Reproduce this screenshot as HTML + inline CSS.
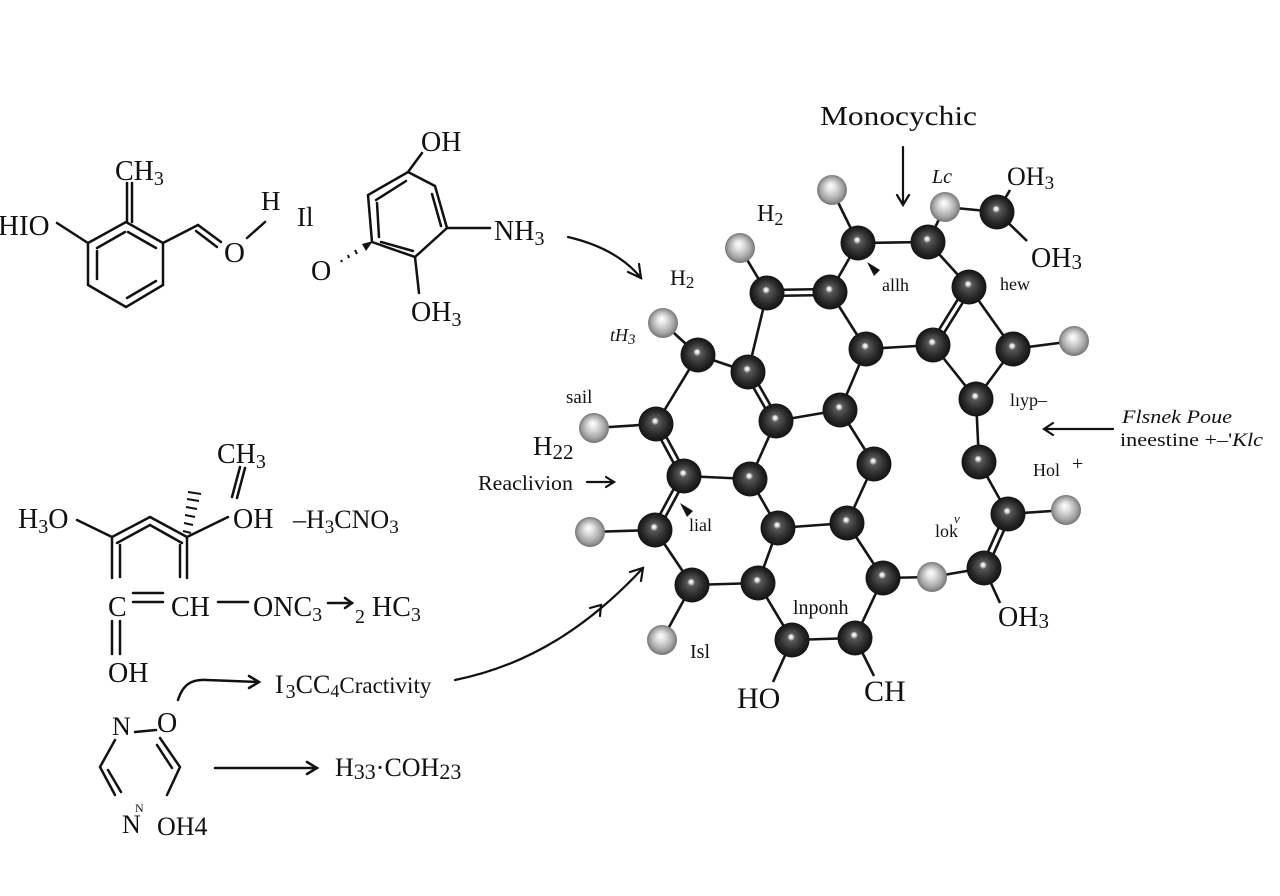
<!DOCTYPE html>
<html><head><meta charset="utf-8"><style>
html,body{margin:0;padding:0;background:#fff;}
svg{display:block;}
text{font-family:"Liberation Serif","DejaVu Serif",serif;fill:#111;}
</style></head><body>
<svg width="1280" height="896" viewBox="0 0 1280 896" xmlns="http://www.w3.org/2000/svg">
<defs>
<radialGradient id="gc" cx="0.5" cy="0.5" r="0.5" fx="0.47" fy="0.4">
<stop offset="0" stop-color="#ffffff"/><stop offset="0.1" stop-color="#e0e0e0"/><stop offset="0.22" stop-color="#585858"/><stop offset="0.65" stop-color="#2c2c2c"/><stop offset="1" stop-color="#121212"/>
</radialGradient>
<radialGradient id="gh" cx="0.5" cy="0.5" r="0.5" fx="0.45" fy="0.35">
<stop offset="0" stop-color="#ffffff"/><stop offset="0.3" stop-color="#e2e2e2"/><stop offset="0.75" stop-color="#a5a5a5"/><stop offset="1" stop-color="#767676"/>
</radialGradient>
</defs>
<rect width="1280" height="896" fill="#fff"/>

<g stroke="#111" stroke-width="2.5" fill="none" stroke-linecap="round">
<!-- Structure 1 -->
<line x1="127" y1="183" x2="127" y2="222"/><line x1="132" y1="183" x2="132" y2="222"/>
<polygon points="126,222 163,243 163,285 126,307 88,285 88,243"/>
<line x1="97" y1="248" x2="125" y2="232"/>
<line x1="128" y1="232" x2="156" y2="248"/>
<line x1="97" y1="251" x2="97" y2="279"/>
<line x1="156" y1="281" x2="127" y2="298"/>
<line x1="57" y1="223" x2="88" y2="243"/>
<line x1="163" y1="243" x2="198" y2="225"/>
<line x1="198" y1="225" x2="221" y2="242"/><line x1="196" y1="231" x2="217" y2="247"/>
<line x1="247" y1="238" x2="265" y2="222"/>
<!-- Structure 2 -->
<polygon points="408,172 435,186 447,228 415,257 372,242 368,195"/>
<line x1="376" y1="200" x2="406" y2="181"/>
<line x1="377" y1="203" x2="379" y2="237"/>
<line x1="432" y1="194" x2="441" y2="226"/>
<line x1="381" y1="242" x2="413" y2="251"/>
<line x1="408" y1="172" x2="422" y2="153"/>
<line x1="447" y1="228" x2="490" y2="228"/>
<line x1="415" y1="257" x2="419" y2="293"/>
<!-- Structure 3 -->
<line x1="77" y1="520" x2="112" y2="537"/>
<line x1="112" y1="537" x2="150" y2="517"/><line x1="150" y1="517" x2="187" y2="537"/>
<line x1="117" y1="543" x2="150" y2="525"/><line x1="150" y1="525" x2="182" y2="543"/>
<line x1="187" y1="537" x2="228" y2="517"/>
<line x1="245" y1="468" x2="237" y2="498"/><line x1="240" y1="467" x2="232" y2="497"/>
<line x1="112" y1="537" x2="112" y2="578"/><line x1="120" y1="545" x2="120" y2="577"/>
<line x1="187" y1="537" x2="187" y2="578"/><line x1="180" y1="545" x2="180" y2="577"/>
<line x1="133" y1="593" x2="163" y2="593"/><line x1="133" y1="602" x2="163" y2="602"/>
<line x1="218" y1="602" x2="248" y2="602"/>
<line x1="328" y1="603" x2="352" y2="603"/><polyline points="345,598 352,603 345,608"/>
<line x1="112" y1="621" x2="112" y2="654"/><line x1="120" y1="621" x2="120" y2="654"/>
<!-- Structure 4 -->
<path d="M178,700 C183,684 192,679 207,680 L259,682"/><polyline points="249,676 259,682 249,688"/>
<line x1="135" y1="732" x2="156" y2="730"/>
<polyline points="115,740 100,767 115,795"/><line x1="108" y1="770" x2="121" y2="792"/>
<polyline points="160,738 180,767 167,795"/><line x1="157" y1="745" x2="172" y2="768"/>
<line x1="215" y1="768" x2="317" y2="768"/><polyline points="307,762 317,768 307,774"/>
</g>
<g stroke="#111" stroke-width="2.2" fill="none" stroke-linecap="round">
<!-- long arrows -->
<path d="M455,680 C530,665 590,625 643,568"/><polyline points="630,572 643,568 641,581"/>
<polyline points="590,608 601,605 600,616"/>
<path d="M568,237 C598,244 624,257 641,278"/><polyline points="639,264 641,278 628,272"/>
<line x1="587" y1="482" x2="614" y2="482"/><polyline points="606,477 614,482 606,487"/>
<line x1="1113" y1="429" x2="1044" y2="429"/><polyline points="1053,423 1044,429 1053,435"/>
<line x1="903" y1="147" x2="903" y2="204"/><polyline points="897,195 903,205 909,195"/>
</g>
<!-- hashed wedges -->
<polygon points="373,241 362,244 366,251" fill="#111"/>
<g stroke="#111" stroke-width="2">
<line x1="355" y1="250" x2="357" y2="254"/><line x1="348" y1="255" x2="349" y2="258"/><line x1="341" y1="260" x2="342" y2="262"/>
<line x1="183" y1="531" x2="191" y2="533"/><line x1="184" y1="523" x2="193" y2="525"/><line x1="185" y1="515" x2="195" y2="517"/><line x1="186" y1="507" x2="197" y2="509"/><line x1="187" y1="499" x2="199" y2="501"/><line x1="188" y1="492" x2="201" y2="494"/>
</g>

<!-- big molecule bonds -->
<g stroke="#151515" stroke-width="2.6" fill="none">
<line x1="832" y1="190" x2="858" y2="243"/>
<line x1="858" y1="243" x2="928" y2="242"/>
<line x1="928" y1="242" x2="945" y2="207"/>
<line x1="945" y1="207" x2="997" y2="212"/>
<line x1="997" y1="212" x2="1010" y2="190"/>
<line x1="997" y1="212" x2="1027" y2="241"/>
<line x1="858" y1="243" x2="830" y2="292"/>
<line x1="928" y1="242" x2="969" y2="287"/>
<line x1="767" y1="290" x2="830" y2="289"/><line x1="767" y1="296" x2="830" y2="295"/>
<line x1="740" y1="248" x2="767" y2="293"/>
<line x1="767" y1="293" x2="748" y2="372"/>
<line x1="830" y1="292" x2="866" y2="349"/>
<line x1="971.5" y1="288.6" x2="935.5" y2="346.6"/><line x1="966.5" y1="285.4" x2="930.5" y2="343.4"/>
<line x1="969" y1="287" x2="1013" y2="349"/>
<line x1="866" y1="349" x2="933" y2="345"/>
<line x1="1013" y1="349" x2="1074" y2="341"/>
<line x1="933" y1="345" x2="976" y2="399"/>
<line x1="1013" y1="349" x2="976" y2="399"/>
<line x1="698" y1="355" x2="663" y2="323"/>
<line x1="698" y1="355" x2="748" y2="372"/>
<line x1="698" y1="355" x2="656" y2="424"/>
<line x1="750.6" y1="370.5" x2="778.6" y2="419.5"/><line x1="745.4" y1="373.5" x2="773.4" y2="422.5"/>
<line x1="866" y1="349" x2="840" y2="410"/>
<line x1="776" y1="421" x2="840" y2="410"/>
<line x1="656" y1="424" x2="594" y2="428"/>
<line x1="658.6" y1="422.6" x2="686.6" y2="474.6"/><line x1="653.4" y1="425.4" x2="681.4" y2="477.4"/>
<line x1="776" y1="421" x2="750" y2="479"/>
<line x1="840" y1="410" x2="874" y2="464"/>
<line x1="976" y1="399" x2="979" y2="462"/>
<line x1="684" y1="476" x2="750" y2="479"/>
<line x1="686.6" y1="477.4" x2="657.6" y2="531.4"/><line x1="681.4" y1="474.6" x2="652.4" y2="528.6"/>
<line x1="750" y1="479" x2="778" y2="528"/>
<line x1="874" y1="464" x2="847" y2="523"/>
<line x1="979" y1="462" x2="1008" y2="514"/>
<line x1="655" y1="530" x2="590" y2="532"/>
<line x1="655" y1="530" x2="692" y2="585"/>
<line x1="778" y1="528" x2="847" y2="523"/>
<line x1="778" y1="528" x2="758" y2="583"/>
<line x1="847" y1="523" x2="883" y2="578"/>
<line x1="1008" y1="514" x2="1066" y2="510"/>
<line x1="1010.7" y1="515.2" x2="986.7" y2="569.2"/><line x1="1005.3" y1="512.8" x2="981.3" y2="566.8"/>
<line x1="692" y1="585" x2="758" y2="583"/>
<line x1="692" y1="585" x2="662" y2="640"/>
<line x1="758" y1="583" x2="792" y2="640"/>
<line x1="883" y1="578" x2="855" y2="638"/>
<line x1="883" y1="578" x2="932" y2="577"/>
<line x1="932" y1="577" x2="984" y2="568"/>
<line x1="984" y1="568" x2="1000" y2="603"/>
<line x1="792" y1="640" x2="855" y2="638"/>
<line x1="792" y1="640" x2="773" y2="682"/>
<line x1="855" y1="638" x2="874" y2="676"/>
</g>
<!-- wedges -->
<polygon points="867,262 880,270 874,276" fill="#111"/>
<polygon points="680,503 693,511 687,517" fill="#111"/>

<!-- hydrogens -->
<g fill="url(#gh)">
<circle cx="832" cy="190" r="15"/><circle cx="945" cy="207" r="15"/><circle cx="740" cy="248" r="15"/>
<circle cx="663" cy="323" r="15"/><circle cx="1074" cy="341" r="15"/><circle cx="594" cy="428" r="15"/>
<circle cx="590" cy="532" r="15"/><circle cx="1066" cy="510" r="15"/><circle cx="932" cy="577" r="15"/>
<circle cx="662" cy="640" r="15"/>
</g>
<!-- carbons -->
<g fill="url(#gc)">
<circle cx="858" cy="243" r="17.5"/><circle cx="928" cy="242" r="17.5"/><circle cx="767" cy="293" r="17.5"/>
<circle cx="830" cy="292" r="17.5"/><circle cx="969" cy="287" r="17.5"/><circle cx="997" cy="212" r="17.5"/>
<circle cx="698" cy="355" r="17.5"/><circle cx="748" cy="372" r="17.5"/><circle cx="866" cy="349" r="17.5"/>
<circle cx="933" cy="345" r="17.5"/><circle cx="1013" cy="349" r="17.5"/><circle cx="656" cy="424" r="17.5"/>
<circle cx="776" cy="421" r="17.5"/><circle cx="840" cy="410" r="17.5"/><circle cx="976" cy="399" r="17.5"/>
<circle cx="684" cy="476" r="17.5"/><circle cx="750" cy="479" r="17.5"/><circle cx="874" cy="464" r="17.5"/>
<circle cx="979" cy="462" r="17.5"/><circle cx="655" cy="530" r="17.5"/><circle cx="778" cy="528" r="17.5"/>
<circle cx="847" cy="523" r="17.5"/><circle cx="1008" cy="514" r="17.5"/><circle cx="692" cy="585" r="17.5"/>
<circle cx="758" cy="583" r="17.5"/><circle cx="883" cy="578" r="17.5"/><circle cx="984" cy="568" r="17.5"/>
<circle cx="792" cy="640" r="17.5"/><circle cx="855" cy="638" r="17.5"/>
</g>

<!-- Left texts -->
<text x="-2" y="235" font-size="29">HIO</text>
<text x="115" y="180" font-size="28">CH<tspan font-size="20" dy="5">3</tspan></text>
<text x="224" y="262" font-size="29">O</text>
<text x="261" y="210" font-size="27">H</text>
<text x="297" y="226" font-size="27">Il</text>
<text x="421" y="151" font-size="28">OH</text>
<text x="494" y="240" font-size="28">NH<tspan font-size="20" dy="5">3</tspan></text>
<text x="411" y="321" font-size="28">OH<tspan font-size="20" dy="5">3</tspan></text>
<text x="311" y="280" font-size="28">O</text>

<text x="217" y="463" font-size="28">CH<tspan font-size="20" dy="5">3</tspan></text>
<text x="18" y="528" font-size="28">H<tspan font-size="20" dy="5">3</tspan><tspan dy="-5">O</tspan></text>
<text x="233" y="528" font-size="28">OH</text>
<text x="293" y="528" font-size="26">–H<tspan font-size="19" dy="5">3</tspan><tspan dy="-5">CNO</tspan><tspan font-size="19" dy="5">3</tspan></text>
<text x="108" y="616" font-size="28">C</text>
<text x="171" y="616" font-size="28">CH</text>
<text x="253" y="616" font-size="28">ONC<tspan font-size="20" dy="5">3</tspan></text>
<text x="355" y="623" font-size="20">2</text>
<text x="372" y="616" font-size="28">HC<tspan font-size="20" dy="5">3</tspan></text>
<text x="108" y="682" font-size="28">OH</text>

<text x="275" y="693" font-size="26">I<tspan font-size="20" dy="5" dx="2">3</tspan><tspan dy="-5">CC</tspan><tspan font-size="18" dy="4">4</tspan><tspan dy="-4" font-size="23">Cractivity</tspan></text>
<text x="112" y="735" font-size="26">N</text>
<text x="157" y="732" font-size="28">O</text>
<text x="122" y="833" font-size="26">N</text>
<text x="135" y="812" font-size="12">N</text>
<text x="157" y="835" font-size="26">OH4</text>
<text x="335" y="776" font-size="26">H<tspan font-size="22" dy="3">33</tspan><tspan dy="-3">·COH</tspan><tspan font-size="22" dy="3">23</tspan></text>

<!-- Right labels -->
<text x="820" y="125" font-size="27" textLength="157" lengthAdjust="spacingAndGlyphs">Monocychic</text>
<text x="932" y="183" font-size="20" font-style="italic">Lc</text>
<text x="1007" y="185" font-size="26">OH<tspan font-size="19" dy="4">3</tspan></text>
<text x="1031" y="267" font-size="28">OH<tspan font-size="21" dy="2">3</tspan></text>
<text x="757" y="221" font-size="24">H<tspan font-size="18" dy="4">2</tspan></text>
<text x="670" y="285" font-size="22">H<tspan font-size="17" dy="3">2</tspan></text>
<text x="882" y="291" font-size="18">allh</text>
<text x="1000" y="290" font-size="18">hew</text>
<text x="610" y="341" font-size="18" font-style="italic">tH<tspan font-size="15" dy="3">3</tspan></text>
<text x="566" y="403" font-size="19">sail</text>
<text x="533" y="455" font-size="27">H<tspan font-size="21" dy="4">22</tspan></text>
<text x="478" y="490" font-size="21" textLength="95" lengthAdjust="spacingAndGlyphs">Reaclivion</text>
<text x="689" y="531" font-size="18">lial</text>
<text x="1010" y="406" font-size="18">lıyp–</text>
<text x="1122" y="423" font-size="19" font-style="italic" textLength="110" lengthAdjust="spacingAndGlyphs">Flsnek Poue</text>
<text x="1120" y="446" font-size="19" textLength="143" lengthAdjust="spacingAndGlyphs">ineestine +–'<tspan font-style="italic">Klc</tspan></text>
<text x="1033" y="476" font-size="18">Hol</text>
<text x="1072" y="470" font-size="20">+</text>
<text x="935" y="537" font-size="18">lok</text>
<text x="954" y="523" font-size="13" font-style="italic">ν</text>
<text x="793" y="614" font-size="20">lnponh</text>
<text x="690" y="658" font-size="20">Isl</text>
<text x="737" y="708" font-size="30">HO</text>
<text x="864" y="701" font-size="30">CH</text>
<text x="998" y="626" font-size="28">OH<tspan font-size="21" dy="2">3</tspan></text>
</svg>
</body></html>
